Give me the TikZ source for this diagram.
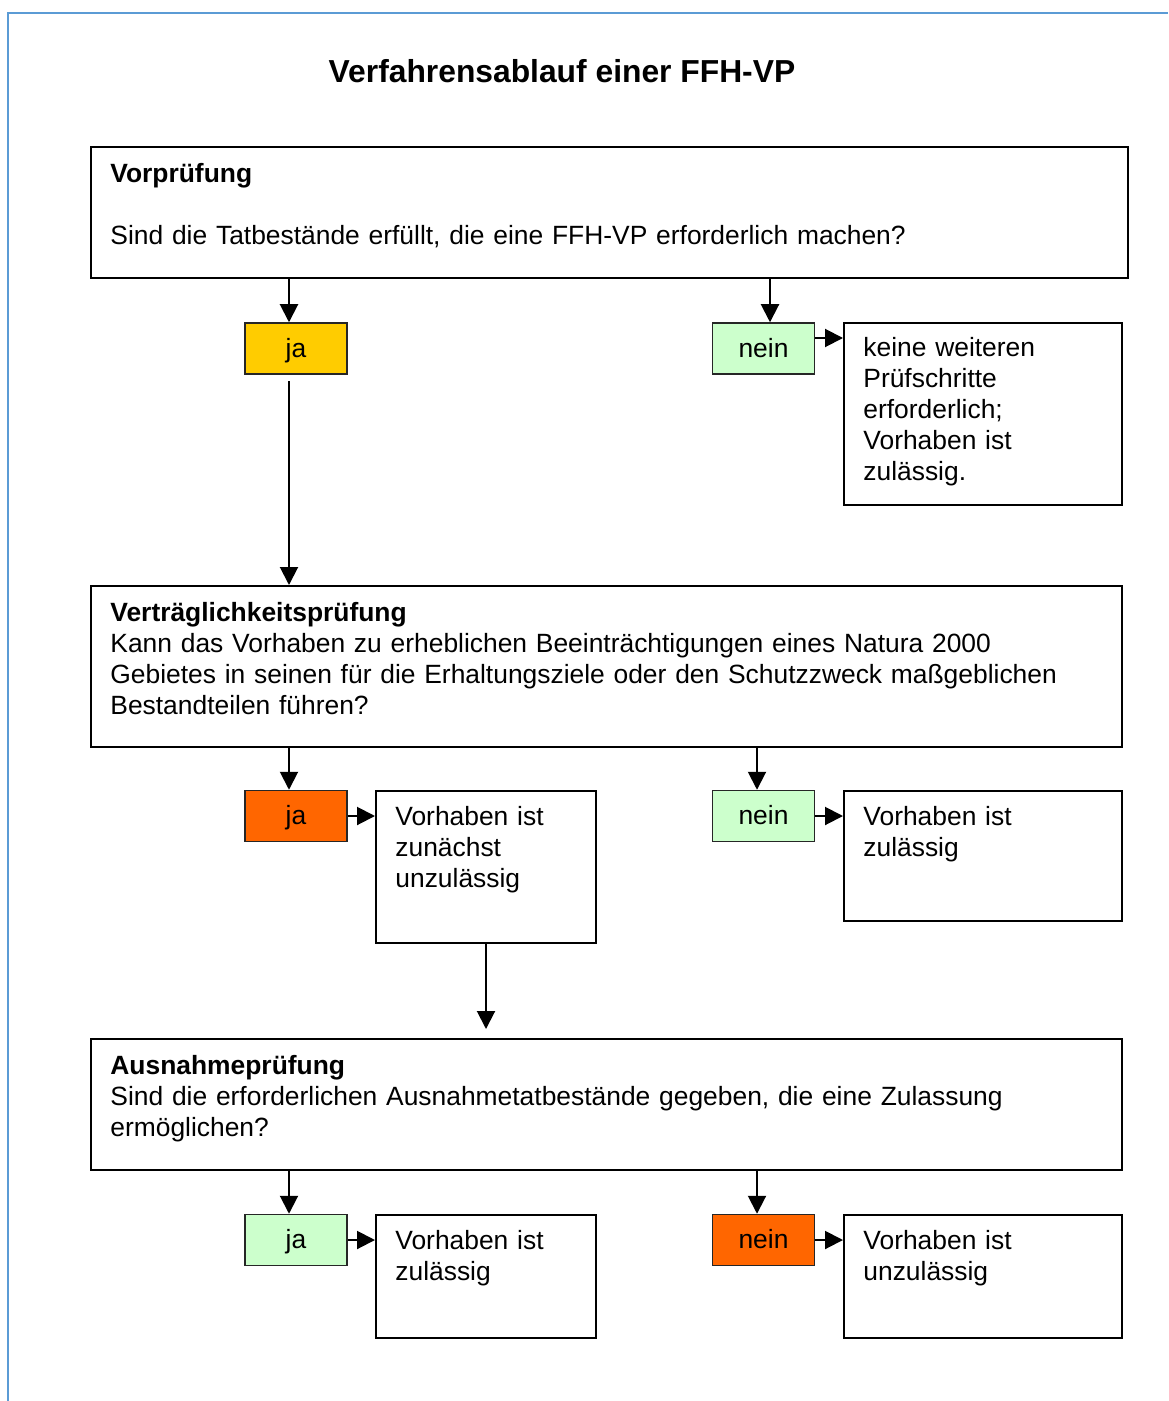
\documentclass[tikz,border=0pt]{standalone}
\usepackage{fontspec}
\setmainfont{Liberation Sans}
\usetikzlibrary{arrows.meta}
\usetikzlibrary{fit}
\definecolor{frameblue}{HTML}{5B9BD5}
\definecolor{jayellow}{HTML}{FFCC00}
\definecolor{jagreen}{HTML}{CCFFCC}
\definecolor{jaorange}{HTML}{FF6600}

\begin{document}
\begin{tikzpicture}[x=0.5pt,y=-0.5pt,
    font=\fontsize{13.2pt}{15.5pt}\selectfont,
    box/.style={draw,line width=1pt,inner sep=0pt},
    answer/.style={draw=black!85,line width=0.75pt,inner sep=0pt,
      minimum width=51pt,minimum height=25.5pt,text height=9.5pt,text depth=0.7pt},
    txt/.style={anchor=base west,inner sep=0pt,align=left},
    arr/.style={line width=1pt,-{Triangle[length=9pt,width=9pt]}}]
    \useasboundingbox (0,0) rectangle (1168,1401);
    \draw[frameblue,line width=0.8pt] (8,1401) -- (8,13) -- (1168,13);
    \node[anchor=base,font=\fontsize{15.9pt}{18pt}\selectfont\bfseries] (T) at (562,83) {Verfahrensablauf einer FFH-VP};
    % Vorpruefung
    \node[box,fit={(91,147) (1128,278)}] (VP) {};
    \node[txt,text width=540pt] (VPt) at (110,183) {\textbf{Vorprüfung}\\[15.5pt]Sind die Tatbestände erfüllt, die eine FFH-VP erforderlich machen?};
    \node[answer,fill=jayellow] (J1) at (296,348.5) {ja};
    \node[answer,fill=jagreen] (N1) at (763.5,348.5) {nein};
    \node[box,fit={(844,323) (1122,505)}] (K1) {};
    \node[txt,text width=135pt] (K1t) at (863,357) {keine weiteren\\Prüfschritte\\erforderlich;\\Vorhaben ist\\zulässig.};
    % Vertraeglichkeitspruefung
    \node[box,fit={(91,586) (1122,747)}] (VT) {};
    \node[txt,text width=540pt] (VTt) at (110,621) {\textbf{Verträglichkeitsprüfung}\\Kann das Vorhaben zu erheblichen Beeinträchtigungen eines Natura 2000\\Gebietes in seinen für die Erhaltungsziele oder den Schutzzweck maßgeblichen\\Bestandteilen führen?};
    \node[answer,fill=jaorange] (J2) at (296,816) {ja};
    \node[box,fit={(376,791) (596,943)}] (Z2) {};
    \node[txt,text width=105pt] (Z2t) at (395,825) {Vorhaben ist\\zunächst\\unzulässig};
    \node[answer,fill=jagreen] (N2) at (763.5,816) {nein};
    \node[box,fit={(844,791) (1122,921)}] (U2) {};
    \node[txt,text width=135pt] (U2t) at (863,825) {Vorhaben ist\\zulässig};
    % Ausnahmepruefung
    \node[box,fit={(91,1039) (1122,1170)}] (VA) {};
    \node[txt,text width=540pt] (VAt) at (110,1074) {\textbf{Ausnahmeprüfung}\\Sind die erforderlichen Ausnahmetatbestände gegeben, die eine Zulassung\\ermöglichen?};
    \node[answer,fill=jagreen] (J3) at (296,1240) {ja};
    \node[box,fit={(376,1215) (596,1338)}] (Z3) {};
    \node[txt,text width=105pt] (Z3t) at (395,1249) {Vorhaben ist\\zulässig};
    \node[answer,fill=jaorange] (N3) at (763.5,1240) {nein};
    \node[box,fit={(844,1215) (1122,1338)}] (U3) {};
    \node[txt,text width=135pt] (U3t) at (863,1249) {Vorhaben ist\\unzulässig};
    % connectors
    \coordinate (VPj) at (289,278);
    \coordinate (VPn) at (770,278);
    \coordinate (J1s) at (289,381);
    \coordinate (N1e) at (815,338);
    \coordinate (VTj) at (289,747);
    \coordinate (VTn) at (757,747);
    \coordinate (Z2s) at (486,943);
    \coordinate (VAj) at (289,1170);
    \coordinate (VAn) at (757,1170);
    \draw[arr] (VPj) -- (VPj |- J1.north);
    \draw[arr] (VPn) -- (VPn |- N1.north);
    \draw[arr] (N1e) -- (N1e -| K1.west);
    \draw[arr] (J1s) -- (J1s |- VT.north);
    \draw[arr] (VTj) -- (VTj |- J2.north);
    \draw[arr] (VTn) -- (VTn |- N2.north);
    \draw[arr] (J2.east) -- (J2.east -| Z2.west);
    \draw[arr] (N2.east) -- (N2.east -| U2.west);
    \draw[arr,shorten >=4.5pt] (Z2s) -- (Z2s |- VA.north);
    \draw[arr] (VAj) -- (VAj |- J3.north);
    \draw[arr] (VAn) -- (VAn |- N3.north);
    \draw[arr] (J3.east) -- (J3.east -| Z3.west);
    \draw[arr] (N3.east) -- (N3.east -| U3.west);
\end{tikzpicture}
\end{document}
